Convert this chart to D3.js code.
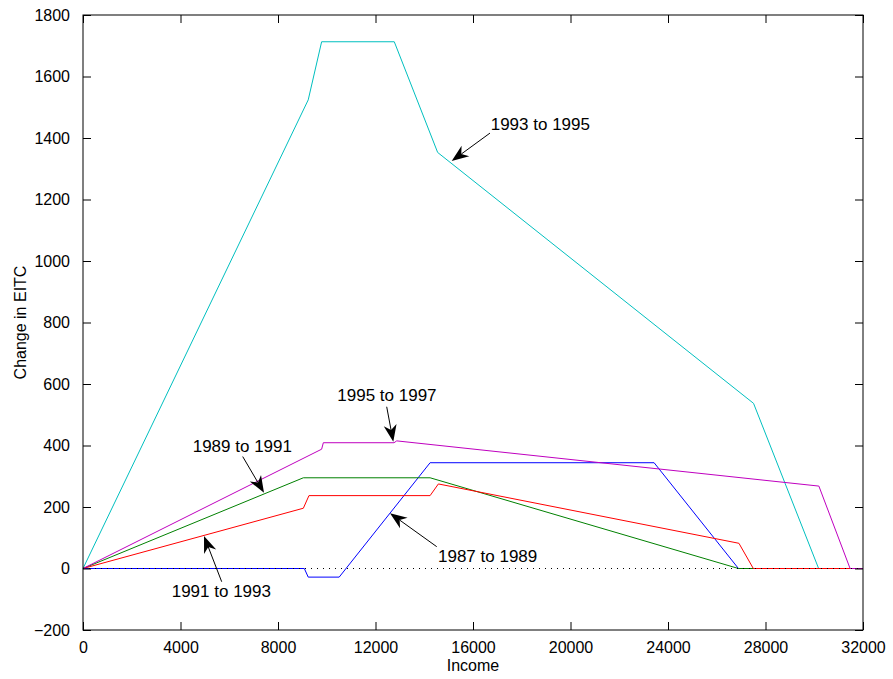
<!DOCTYPE html>
<html>
<head>
<meta charset="utf-8">
<script src="https://cdn.jsdelivr.net/npm/d3@7"></script>
<style>
  body { margin: 0; background: #fff; }
  svg { display: block; font-family: "Liberation Sans", Arial, Helvetica, sans-serif; }
</style>
</head>
<body>
<svg id="chart"></svg>
<script>
// Income breakpoints and EITC change for each period
const blueX = [0, 9080, 9240, 10510, 14240, 23430, 26890, 32000];
const blueY = [0, 0, -28, -28, 344, 344, 0, 0];
const greenX = [0, 9040, 14240, 26890, 32000];
const greenY = [0, 295, 295, 0, 0];
const redX = [0, 9040, 9270, 14240, 14580, 26910, 27500, 32000];
const redY = [0, 196, 237, 237, 275, 82, 0, 0];
const cyanX = [0, 9240, 9790, 12770, 14550, 27510, 30180, 32000];
const cyanY = [0, 1524, 1713, 1713, 1353, 537, 0, 0];
const magentaX = [0, 9790, 9860, 12760, 12870, 30190, 31470, 32000];
const magentaY = [0, 388, 409, 409, 415, 268, 0, 0];

const xTicks = [0, 4000, 8000, 12000, 16000, 20000, 24000, 28000, 32000];
const yTicks = [-200, 0, 200, 400, 600, 800, 1000, 1200, 1400, 1600, 1800];

// annotation labels: text anchor, arrow tail, arrow tip (data units)
const noteLabels = ["1993 to 1995", "1995 to 1997", "1989 to 1991", "1987 to 1989", "1991 to 1993"];
const noteText = [[16726, 1426], [10433, 546], [4500, 380], [14564, 22], [3639, -92]];
const noteTail = [[16697, 1416], [12459, 526], [6552, 364], [14511, 71], [5690, -43]];
const noteTip = [[15126, 1325], [12730, 412], [7426, 246], [12595, 180], [4964, 106]];

const width = 893;
const height = 679;
const margin = { top: 15, right: 30, bottom: 49, left: 83 };

const svg = d3.select("#chart").attr("width", width).attr("height", height);

const x = d3.scaleLinear().domain([0, 32000]).range([margin.left, width - margin.right]);
const y = d3.scaleLinear().domain([-200, 1800]).range([height - margin.bottom, margin.top]);

const series = [
  { xs: blueX, ys: blueY, color: "#0000ff" },
  { xs: cyanX, ys: cyanY, color: "#00bfbf" },
  { xs: greenX, ys: greenY, color: "#008000" },
  { xs: redX, ys: redY, color: "#ff0000" },
  { xs: magentaX, ys: magentaY, color: "#bf00bf" }
];

const line = d3.line().x((d) => x(d[0])).y((d) => y(d[1]));

svg.append("g")
  .selectAll("path")
  .data(series)
  .join("path")
  .attr("fill", "none")
  .attr("stroke", (s) => s.color)
  .attr("stroke-width", 1)
  .attr("d", (s) => line(s.xs.map((v, i) => [v, s.ys[i]])));

// dotted zero line
svg.append("line")
  .attr("x1", x(0)).attr("x2", x(32000))
  .attr("y1", y(0)).attr("y2", y(0))
  .attr("stroke", "#000")
  .attr("stroke-width", 1)
  .attr("stroke-dasharray", "1,5");

// axes, ticks pointing inward, MATLAB box
const tickLen = 8;
const plotW = width - margin.left - margin.right;
const plotH = height - margin.top - margin.bottom;

const styleAxis = (g) => {
  g.select(".domain").remove();
  g.selectAll("line").attr("stroke", "#000");
  g.selectAll("text").style("font-size", "16px").attr("fill", "#000");
};

svg.append("g")
  .attr("transform", `translate(0,${height - margin.bottom})`)
  .call(d3.axisBottom(x).tickValues(xTicks).tickFormat(d3.format("d")).tickSize(-tickLen).tickPadding(tickLen + 4))
  .call(styleAxis);

svg.append("g")
  .attr("transform", `translate(0,${margin.top})`)
  .call(d3.axisTop(x).tickValues(xTicks).tickFormat("").tickSize(-tickLen))
  .call(styleAxis);

svg.append("g")
  .attr("transform", `translate(${margin.left},0)`)
  .call(d3.axisLeft(y).tickValues(yTicks).tickFormat(d3.format("d")).tickSize(-tickLen).tickPadding(tickLen + 5))
  .call(styleAxis);

svg.append("g")
  .attr("transform", `translate(${width - margin.right},0)`)
  .call(d3.axisRight(y).tickValues(yTicks).tickFormat("").tickSize(-tickLen))
  .call(styleAxis);

svg.append("rect")
  .attr("x", margin.left).attr("y", margin.top)
  .attr("width", plotW).attr("height", plotH)
  .attr("fill", "none").attr("stroke", "#000").attr("stroke-width", 1);

// axis labels
svg.append("text")
  .attr("x", margin.left + plotW / 2)
  .attr("y", height - 8)
  .attr("text-anchor", "middle")
  .style("font-size", "16px")
  .text("Income");

svg.append("text")
  .attr("transform", `translate(26,${margin.top + plotH / 2}) rotate(-90)`)
  .attr("text-anchor", "middle")
  .style("font-size", "16px")
  .text("Change in EITC");

// annotations with arrows
const notes = svg.append("g");
noteLabels.forEach((label, i) => {
  const t0 = [x(noteTail[i][0]), y(noteTail[i][1])];
  const t1 = [x(noteTip[i][0]), y(noteTip[i][1])];
  const dx = t1[0] - t0[0];
  const dy = t1[1] - t0[1];
  const len = Math.hypot(dx, dy);
  const ux = dx / len, uy = dy / len;
  const nx = -uy, ny = ux;
  const L = 17, W = 6.5;
  const bx = t1[0] - ux * L, by = t1[1] - uy * L;
  const mx = t1[0] - ux * L * 0.7, my = t1[1] - uy * L * 0.7;

  notes.append("line")
    .attr("x1", t0[0]).attr("y1", t0[1])
    .attr("x2", mx).attr("y2", my)
    .attr("stroke", "#000").attr("stroke-width", 1);

  notes.append("path")
    .attr("d", `M${t1[0]},${t1[1]}L${bx + nx * W},${by + ny * W}L${mx},${my}L${bx - nx * W},${by - ny * W}Z`)
    .attr("fill", "#000");

  notes.append("text")
    .attr("x", x(noteText[i][0]))
    .attr("y", y(noteText[i][1]))
    .style("font-size", "17px")
    .text(label);
});
</script>
</body>
</html>
